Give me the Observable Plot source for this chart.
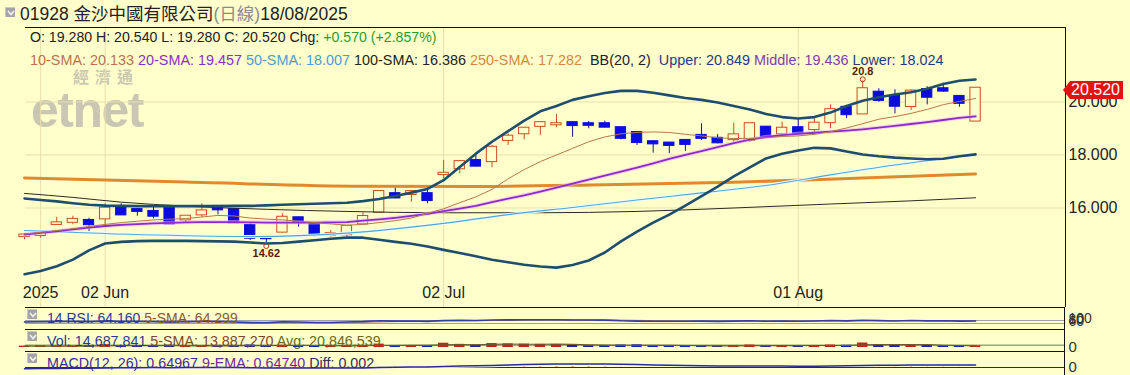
<!DOCTYPE html>
<html><head><meta charset="utf-8">
<script src="https://cdn.jsdelivr.net/npm/d3@7"></script>
<script src="https://cdn.jsdelivr.net/npm/@observablehq/plot@0.6"></script>
<style>
html,body{margin:0;padding:0;background:#FFFFCC;}
#wrap{position:relative;width:1130px;height:375px;overflow:hidden;font-family:"Liberation Sans",Arial,sans-serif;background:#FFFFCC;}
.t{position:absolute;white-space:pre;line-height:14px;font-size:14px;color:#222;z-index:3;}
.ico{position:absolute;width:10px;height:10px;background:#a4a4a4;border-top:1px solid #c8c8c8;border-left:1px solid #c8c8c8;box-sizing:border-box;z-index:3;}
.ico svg{position:absolute;left:1px;top:2px;}
.sep{position:absolute;background:#111;z-index:2;}
.plotbox{position:absolute;left:0;z-index:1;}
</style></head><body>
<div id="wrap">
  <div class="ico" style="left:5px;top:7px"><svg width="8" height="6"><polyline points="1,1 4,4.5 7,1" fill="none" stroke="#f4f4f4" stroke-width="1.6"/></svg></div>
  <div class="t" id="hdr" style="left:20px;top:4px;font-size:17.5px;line-height:17px;"></div>
  <div style="position:absolute;left:73px;top:68px;font-family:'Noto Sans CJK TC',sans-serif;font-size:16px;line-height:16px;letter-spacing:6px;color:#cbc8b2;font-weight:bold;z-index:0">經濟通</div>
  <div style="position:absolute;left:31px;top:88px;font-family:'Liberation Sans',Arial,sans-serif;font-size:50px;line-height:44px;font-weight:bold;letter-spacing:-1.5px;color:#c9c6b3;z-index:0">etnet</div>
  <div class="plotbox" id="main" style="top:0"></div>
  <div class="t" id="ohlc" style="left:30px;top:30px;font-size:14.15px"></div>
  <div class="t" id="legend" style="left:30px;top:53px;font-size:14.4px"></div>
  <div class="plotbox" id="rsi" style="top:307px"></div>
  <div class="plotbox" id="vol" style="top:329px"></div>
  <div class="plotbox" id="macd" style="top:351px"></div>
  <div class="sep" style="left:25px;top:329px;width:1040px;height:1px"></div>
  <div class="sep" style="left:25px;top:351px;width:1040px;height:1px"></div>
  <div class="sep" style="left:1064px;top:307px;width:1px;height:68px"></div>
  <div class="ico" style="left:27px;top:309px"><svg width="8" height="6"><polyline points="1,1 4,4.5 7,1" fill="none" stroke="#f4f4f4" stroke-width="1.6"/></svg></div>
  <div class="ico" style="left:27px;top:331px"><svg width="8" height="6"><polyline points="1,1 4,4.5 7,1" fill="none" stroke="#f4f4f4" stroke-width="1.6"/></svg></div>
  <div class="ico" style="left:27px;top:353px"><svg width="8" height="6"><polyline points="1,1 4,4.5 7,1" fill="none" stroke="#f4f4f4" stroke-width="1.6"/></svg></div>
  <div class="t" id="rsiTxt" style="left:47px;top:311px"></div>
  <div class="t" id="volTxt" style="left:47px;top:334px;font-size:14.3px"></div>
  <div class="t" id="macdTxt" style="left:47px;top:356px;font-size:14.3px"></div>
  <div id="tag" style="position:absolute;z-index:4;"></div>
</div>
<script>
// ---------- data ----------
const tickIdx = [1, 5, 26, 48];
const tickLabels = ["2025", "02 Jun", "02 Jul", "01 Aug"];
const yTicks = [16, 18, 20];

const open  = [14.92,14.96,15.38,15.46,15.53,15.59,16.03,15.94,15.87,15.99,15.55,15.74,16.06,15.94,15.34,14.90,15.09,15.63,15.40,14.96,14.99,15.40,15.84,16.54,16.51,16.54,17.26,17.48,17.79,17.75,18.55,18.80,19.08,19.14,19.22,19.18,19.18,19.03,18.85,18.50,18.45,18.55,18.74,18.63,18.58,18.55,19.05,18.80,19.03,18.96,19.22,19.80,19.55,20.37,20.21,19.83,20.47,20.50,20.21,19.28];
const high  = [15.02,15.15,15.65,15.69,15.61,16.16,16.16,15.96,16.03,16.00,15.69,16.16,16.08,15.96,15.40,14.92,15.78,15.65,15.40,15.15,15.33,15.82,16.66,16.78,16.64,16.72,17.79,17.77,17.98,18.36,18.80,19.03,19.24,19.53,19.24,19.26,19.28,19.05,18.87,18.52,18.47,18.57,19.18,18.77,19.20,19.20,19.07,19.24,19.37,19.43,19.89,19.87,20.80,20.50,20.46,20.46,20.58,20.71,20.23,20.54];
const low   = [14.80,14.86,15.38,15.37,15.11,15.28,15.74,15.69,15.59,15.40,15.44,15.65,15.74,15.42,14.77,14.62,15.05,15.28,14.90,14.90,14.90,15.38,15.80,16.35,16.22,16.16,17.10,17.29,17.55,17.52,18.36,18.57,18.74,19.03,18.67,18.99,19.03,18.57,18.36,18.07,18.05,18.14,18.55,18.42,18.48,18.48,18.65,18.74,18.80,18.74,18.99,19.37,19.55,19.99,19.55,19.68,19.89,20.37,19.80,19.28];
const close = [14.98,15.09,15.44,15.57,15.37,15.99,15.74,15.87,15.69,15.40,15.69,15.89,15.93,15.44,14.86,14.84,15.65,15.46,14.99,15.03,15.31,15.68,16.62,16.38,16.62,16.28,17.31,17.75,17.58,18.29,18.71,19.01,19.22,19.18,19.11,19.12,19.05,18.63,18.47,18.42,18.36,18.40,18.63,18.46,18.76,19.18,18.67,19.01,18.82,19.20,19.71,19.52,20.50,20.06,19.84,20.41,20.18,20.41,19.95,20.52];

const bbUpper = [16.36,16.30,16.25,16.18,16.12,16.09,16.08,16.07,16.07,16.07,16.07,16.07,16.07,16.08,16.08,16.10,16.12,16.14,16.16,16.18,16.20,16.26,16.34,16.45,16.58,16.72,17.05,17.55,18.05,18.50,18.90,19.30,19.65,19.85,20.08,20.22,20.34,20.42,20.42,20.35,20.25,20.15,20.08,19.98,19.85,19.72,19.55,19.43,19.38,19.43,19.60,19.85,20.05,20.18,20.28,20.37,20.50,20.68,20.80,20.849];
const bbLower = [13.50,13.62,13.80,14.05,14.40,14.66,14.72,14.75,14.76,14.76,14.76,14.75,14.74,14.73,14.70,14.66,14.68,14.73,14.78,14.84,14.88,14.88,14.80,14.72,14.65,14.55,14.42,14.30,14.18,14.05,13.95,13.86,13.79,13.75,13.85,14.02,14.32,14.74,15.11,15.45,15.75,16.09,16.45,16.81,17.19,17.53,17.87,18.05,18.17,18.27,18.25,18.13,18.02,17.95,17.90,17.87,17.84,17.86,17.95,18.024];
const sma20 = [15.00,15.06,15.12,15.19,15.26,15.32,15.36,15.39,15.42,15.44,15.46,15.47,15.47,15.47,15.46,15.45,15.45,15.45,15.45,15.46,15.47,15.52,15.57,15.63,15.70,15.78,15.88,15.98,16.08,16.22,16.35,16.48,16.62,16.77,16.92,17.07,17.22,17.37,17.52,17.68,17.85,18.00,18.15,18.30,18.45,18.58,18.68,18.75,18.80,18.84,18.88,18.92,18.97,19.03,19.10,19.17,19.24,19.32,19.40,19.457];
const sma10 = [15.02,15.08,15.15,15.22,15.30,15.38,15.45,15.50,15.55,15.58,15.60,15.66,15.72,15.70,15.62,15.58,15.55,15.50,15.45,15.40,15.35,15.38,15.45,15.52,15.62,15.80,15.97,16.20,16.42,16.70,17.10,17.45,17.75,18.00,18.25,18.50,18.68,18.80,18.85,18.87,18.85,18.78,18.72,18.65,18.62,18.63,18.65,18.70,18.72,18.78,18.88,19.02,19.18,19.35,19.45,19.57,19.72,19.90,20.02,20.133];
const sma50Idx = [0, 8, 14, 20, 26, 30, 34, 38, 42, 46, 50, 54, 59];
const sma50Val = [15.15,14.98,14.92,15.05,15.42,15.75,16.02,16.30,16.57,16.85,17.25,17.62,18.007];
const sma100Idx = [0, 3, 6, 10, 15, 20, 26, 32, 38, 44, 50, 55, 59];
const sma100Val = [16.55,16.40,16.22,16.07,15.95,15.87,15.82,15.82,15.87,16.00,16.15,16.27,16.386];
const sma250Idx = [0, 10, 21, 28, 36, 44, 52, 59];
const sma250Val = [17.13,16.98,16.82,16.81,16.88,16.97,17.13,17.282];

const rsiTicks = [100, 80, 60];
const rsiGuides = [30, 70];
const rsi    = [50,53,56,57,53,61,56,57,54,48,53,57,57,49,40,39,52,49,43,44,49,55,66,61,64,58,70,73,70,76,78,79,80,79,77,77,75,66,62,60,59,60,62,58,62,67,60,63,60,64,69,65,74,68,64,69,65,67,61,64.16];
const rsiSma = [52,53,54,54,55,56,56,57,57,55,54,54,54,53,51,48,47,46,45,45,47,48,51,55,58,61,64,66,67,70,73,75,77,78,78,78,78,75,72,68,64,61,61,60,60,62,62,62,62,63,63,64,66,68,68,68,68,67,65,64.3];
const vol    = [12,14,13,11,15,25,18,12,14,20,12,13,12,16,22,18,20,14,17,12,14,16,30,18,15,16,38,28,22,35,32,30,28,26,20,16,15,22,24,18,14,13,17,14,16,22,18,15,16,17,22,20,40,25,24,20,18,14,15,14.69];
const volSma = [13,13,13,13,13,15,16,16,17,18,15,14,14,15,17,16,18,18,18,16,15,16,18,18,19,19,23,25,24,28,31,29,29,30,27,24,21,20,20,19,19,18,17,15,15,16,17,17,17,18,18,18,23,25,26,26,25,20,18,13.89];
const volAvg = 20.85;
const macd   = [-0.30,-0.28,-0.24,-0.20,-0.18,-0.12,-0.08,-0.05,-0.03,-0.04,-0.03,-0.01,0.01,0.00,-0.06,-0.11,-0.10,-0.10,-0.13,-0.14,-0.13,-0.10,0.00,0.06,0.12,0.14,0.25,0.36,0.43,0.53,0.63,0.72,0.80,0.85,0.88,0.88,0.87,0.81,0.73,0.64,0.56,0.49,0.45,0.39,0.37,0.38,0.35,0.35,0.33,0.34,0.39,0.41,0.51,0.56,0.57,0.61,0.62,0.65,0.62,0.65];
const signal = [-0.32,-0.31,-0.30,-0.28,-0.26,-0.23,-0.20,-0.17,-0.14,-0.12,-0.10,-0.08,-0.06,-0.05,-0.05,-0.06,-0.07,-0.08,-0.09,-0.10,-0.11,-0.11,-0.09,-0.06,-0.03,0.00,0.05,0.11,0.17,0.24,0.32,0.40,0.48,0.55,0.62,0.67,0.71,0.73,0.73,0.71,0.68,0.64,0.60,0.56,0.52,0.49,0.46,0.44,0.42,0.40,0.40,0.40,0.42,0.45,0.47,0.50,0.52,0.55,0.57,0.6474];

// ---------- text ----------
const FONT = "'Liberation Sans', Arial, sans-serif";
const CJK = "'Noto Sans CJK TC', 'Noto Sans CJK SC', sans-serif";
document.getElementById("hdr").innerHTML =
  `01928 <span style="font-family:${CJK}">金沙中國有限公司</span><span style="color:#8c8c8c">(<span style="font-family:${CJK}">日線</span>)</span>18/08/2025`;

const last = open.length - 1;
const chg = close[last] - close[last - 1];
document.getElementById("ohlc").innerHTML =
  `O: ${open[last].toFixed(3)} H: ${high[last].toFixed(3)} L: ${low[last].toFixed(3)} C: ${close[last].toFixed(3)} Chg: <span style="color:#2f9a2f">+${chg.toFixed(3)} (+${(chg / close[last - 1] * 100).toFixed(3)}%)</span>`;

const legendItems = [
  ["10-SMA: 20.133 ", "#c0704e"],
  ["20-SMA: 19.457 ", "#8b2fc9"],
  ["50-SMA: 18.007 ", "#4a9cd6"],
  ["100-SMA: 16.386 ", "#222"],
  ["250-SMA: 17.282  ", "#d9873a"],
  ["BB(20, 2)  ", "#222"],
  ["Upper: 20.849 ", "#233d7b"],
  ["Middle: 19.436 ", "#8040a8"],
  ["Lower: 18.024", "#233d7b"]
];
document.getElementById("legend").innerHTML = legendItems.map(([s, c]) => `<span style="color:${c}">${s}</span>`).join("");
document.getElementById("rsiTxt").innerHTML = `<span style="color:#2a3a9a">14 RSI: 64.160 </span><span style="color:#8a5a2a">5-SMA: 64.299</span>`;
document.getElementById("volTxt").innerHTML = `<span style="color:#283c8c">Vol: 14,687,841 </span><span style="color:#7a4a2a">5-SMA: 13,887,270 </span><span style="color:#6a6a1a">Avg: 20,846,539</span>`;
document.getElementById("macdTxt").innerHTML = `<span style="color:#3a2a9a">MACD(12, 26): 0.64967 </span><span style="color:#6a2a9a">9-EMA: 0.64740 </span><span style="color:#3a2a5a">Diff: 0.002</span>`;

// ---------- main chart ----------
const BG = "#FFFFCC", GRID = "#e6e0aa";
const UP = "#cf4b1f", DN = "#0c0ce0", DNW = "#1414a0";
const BB = "#1f4d6e";
const xDomain = [0.06, 64.58];
const yDomain = [12.245, 22.811];
const idx = d3.range(open.length);
const ups = idx.filter(i => close[i] >= open[i]);
const dns = idx.filter(i => close[i] < open[i]);
const hiI = d3.maxIndex(high), loI = d3.minIndex(low);
const baseStyle = {background: "transparent", fontFamily: FONT, fontSize: "16px", overflow: "visible"};

const lineOf = (arr, opts) => Plot.line(idx, {x: i => i, y: i => arr[i], ...opts});
const sparse = (ix, vals, opts) => Plot.line(ix.map((d, k) => [d, vals[k]]), {x: d => d[0], y: d => d[1], curve: "monotone-x", ...opts});

const main = Plot.plot({
  width: 1130, height: 307,
  marginTop: 27, marginBottom: 0, marginLeft: 25, marginRight: 65,
  style: baseStyle,
  x: {domain: xDomain, axis: null},
  y: {domain: yDomain, axis: null},
  marks: [
    Plot.gridY(yTicks, {stroke: GRID, strokeOpacity: 1}),
    Plot.gridX(tickIdx, {stroke: GRID, strokeOpacity: 1}),
    Plot.text(tickIdx, {x: d => d, text: (d, i) => tickLabels[i], frameAnchor: "bottom", dy: -10, fontSize: 16, fill: "#222"}),
    Plot.axisY(yTicks, {anchor: "right", tickSize: 0, tickPadding: 3, tickFormat: d => d.toFixed(3), fontSize: 16, color: "#222"}),
    // candles
    Plot.ruleX(ups, {x: i => i, y1: i => low[i], y2: i => high[i], stroke: UP, strokeWidth: 1}),
    Plot.ruleX(dns, {x: i => i, y1: i => low[i], y2: i => high[i], stroke: DNW, strokeWidth: 1}),
    Plot.rect(ups, {x1: i => i - 0.32, x2: i => i + 0.32, y1: i => open[i], y2: i => close[i], fill: BG, stroke: UP, strokeWidth: 1, insetTop: -0.5, insetBottom: -0.5}),
    Plot.rect(dns, {x1: i => i - 0.32, x2: i => i + 0.32, y1: i => open[i], y2: i => close[i], fill: DN, stroke: DN, strokeWidth: 1, insetTop: -0.5, insetBottom: -0.5}),
    // moving averages
    sparse(sma250Idx, sma250Val, {stroke: "#e08a2e", strokeWidth: 3}),
    sparse(sma100Idx, sma100Val, {stroke: "#2e2a22", strokeWidth: 1}),
    sparse(sma50Idx, sma50Val, {stroke: "#eafcff", strokeWidth: 3}),
    sparse(sma50Idx, sma50Val, {stroke: "#4fa6d8", strokeWidth: 1.1}),
    lineOf(bbUpper, {stroke: BB, strokeWidth: 2.6}),
    lineOf(bbLower, {stroke: BB, strokeWidth: 2.6}),
    lineOf(sma20, {stroke: "#f2aee8", strokeWidth: 4, strokeOpacity: 0.55}),
    lineOf(sma20, {stroke: "#8a2bd0", strokeWidth: 1.8}),
    lineOf(sma10, {stroke: "#b8784a", strokeWidth: 1}),
    // high / low annotations
    Plot.dot([hiI], {x: d => d, y: d => high[d], r: 2.5, stroke: "#b0401a", fill: "none", dy: -1.5, strokeWidth: 1}),
    Plot.text([hiI], {x: d => d, y: d => high[d], text: d => String(high[d]), dy: -9, fontSize: 11, fontWeight: "bold", fill: "#5c1800"}),
    Plot.dot([loI], {x: d => d, y: d => low[d], r: 2.5, stroke: "#b0401a", fill: "none", dy: 1.5, strokeWidth: 1}),
    Plot.text([loI], {x: d => d, y: d => low[d], text: d => String(low[d]), dy: 9, fontSize: 11, fontWeight: "bold", fill: "#5c1800"}),
    // frame (top, right, bottom)
    Plot.ruleY([yDomain[1]], {stroke: "#111"}),
    Plot.ruleY([yDomain[0]], {stroke: "#111"}),
    Plot.ruleX([xDomain[1]], {stroke: "#111"})
  ]
});
document.getElementById("main").appendChild(main);

// price tag from the y scale
const yS = main.scale("y");
const yc = yS.apply(close[last]) + 2;
const tag = document.getElementById("tag");
tag.style.left = "1063px";
tag.style.top = (yc - 9) + "px";
tag.innerHTML =
  `<div style="position:absolute;left:0;top:0;width:0;height:0;border-top:9px solid transparent;border-bottom:9px solid transparent;border-right:7px solid #e31212"></div>` +
  `<div style="position:absolute;left:7px;top:0;width:52px;height:18px;background:#e31212;color:#fff;font-family:${FONT};font-size:16px;line-height:18px;padding-left:1px">${close[last].toFixed(3)}</div>`;

// ---------- sub panels ----------
function sub(h, dom, range, marks) {
  return Plot.plot({
    width: 1130, height: h, marginTop: 0, marginBottom: 0, marginLeft: 25, marginRight: 65,
    style: baseStyle,
    x: {domain: xDomain, axis: null},
    y: {domain: dom, range, axis: null},
    marks
  });
}
const rsiPlot = sub(22, [-50, 243], [22, 0], [
  Plot.ruleY(rsiGuides, {stroke: "#9aa0b0", strokeWidth: 1}),
  lineOf(rsiSma, {stroke: "#a08050", strokeWidth: 1}),
  lineOf(rsi, {stroke: "#3a3aa8", strokeWidth: 1.6}),
  Plot.axisY(rsiTicks, {anchor: "right", tickSize: 0, tickPadding: 3, fontSize: 14, color: "#333"})
]);
document.getElementById("rsi").appendChild(rsiPlot);

const volPlot = sub(22, [0, 160], [18, 0], [
  Plot.ruleY([volAvg], {stroke: "#5a8a2a", strokeWidth: 1}),
  Plot.rectY(ups, {x1: i => i - 0.32, x2: i => i + 0.32, y1: 0, y2: i => vol[i], fill: "#c81e1e"}),
  Plot.rectY(dns, {x1: i => i - 0.32, x2: i => i + 0.32, y1: 0, y2: i => vol[i], fill: "#2020b0"}),
  lineOf(volSma, {stroke: "#6b5a2a", strokeWidth: 1.2}),
  Plot.axisY([0], {anchor: "right", tickSize: 0, tickPadding: 3, fontSize: 15, color: "#333"})
]);
document.getElementById("vol").appendChild(volPlot);

const macdPlot = sub(24, [-2, 4], [24, 0], [
  Plot.ruleX(idx, {x: i => i, y1: 0, y2: i => macd[i] - signal[i], stroke: "#e0a060", strokeWidth: 2}),
  Plot.ruleY([0], {stroke: "#2a2a5a", strokeWidth: 1.2}),
  lineOf(signal, {stroke: "#f4f4ff", strokeWidth: 1.2}),
  lineOf(macd, {stroke: "#2a2a9a", strokeWidth: 1.5}),
  Plot.axisY([0], {anchor: "right", tickSize: 0, tickPadding: 3, fontSize: 15, color: "#333"})
]);
document.getElementById("macd").appendChild(macdPlot);
</script>
</body></html>
